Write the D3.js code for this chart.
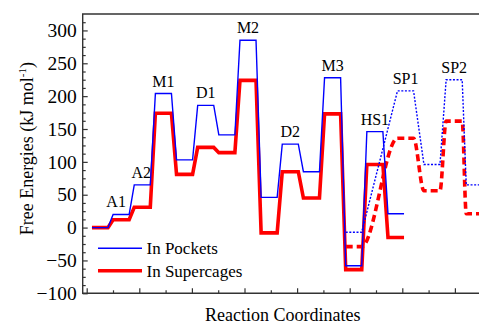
<!DOCTYPE html>
<html><head><meta charset="utf-8">
<script src="https://cdn.jsdelivr.net/npm/d3@7"></script>
<style>
html,body{margin:0;padding:0;background:#fff;}
svg{display:block;font-family:"Liberation Serif","Times New Roman",serif;}
</style></head>
<body><svg id="c" width="479" height="326"></svg>
<script>
// ---- data ----
const stateLabels = ["", "A1", "A2", "M1", "", "D1", "", "M2", "", "D2", "", "M3", "", "HS1", ""];
const pocketValues = [0, 20, 65, 204, 103, 186, 141, 285, 46, 127, 85, 228, -58, 146, 21];
const supercageValues = [0, 12, 31, 174, 81, 122, 114, 224, -8, 85, 45, 173, -64, 96, -15];
// branch through SP1 / SP2 (positions along the reaction coordinate, in state units)
const branchPositions = [12, 14.45, 15.7, 16.75, 17.7];
const branchLabels = ["", "SP1", "", "SP2", ""];
const pocketBranch = [-7, 208, 96, 225, 65];
const supercageBranch = [-29, 136, 56, 162, 21];
const yTicks = [-100, -50, 0, 50, 100, 150, 200, 250, 300];
const seriesNames = ["In Pockets", "In Supercages"];

// ---- layout ----
const L = 82.7, R = 479, T = 14, B = 293.3;
const svg = d3.select("#c");
const y = d3.scaleLinear().domain([-100, 325]).range([B, T]);
// reaction coordinate axis: one unit = one major tick
const x = d3.scaleLinear().domain([0, 7]).range([86.7, 86.7 + 7 * 52.6]);
const PITCH = 0.402, OFFSET = 0.1, FLAT = 0.305;
const pos = i => OFFSET + i * PITCH;

function stepPoints(positions, values) {
  const pts = [];
  values.forEach((v, k) => {
    const s = pos(positions[k]);
    pts.push([s, v]); pts.push([s + FLAT, v]);
  });
  return pts;
}
const idx = pocketValues.map((_, i) => i);

svg.append("defs").append("clipPath").attr("id", "clip")
  .append("rect").attr("x", L).attr("y", T).attr("width", R - L).attr("height", B - T);

const g = svg.append("g").attr("clip-path", "url(#clip)");
const line = d3.line().x(d => x(d[0])).y(d => y(d[1]));
const smooth = d3.line().x(d => x(d[0])).y(d => y(d[1])).curve(d3.curveMonotoneX);

// supercage branch (dashed, smooth)
g.append("path").attr("d", smooth(stepPoints(branchPositions, supercageBranch)))
  .attr("fill", "none").attr("stroke", "#ff0000").attr("stroke-width", 3.6)
  .attr("stroke-dasharray", "7,4");
// supercage main
g.append("path").attr("d", line(stepPoints(idx, supercageValues)))
  .attr("fill", "none").attr("stroke", "#ff0000").attr("stroke-width", 3.6)
  .attr("stroke-linejoin", "miter");
// pocket branch (dotted)
g.append("path").attr("d", line(stepPoints(branchPositions, pocketBranch)))
  .attr("fill", "none").attr("stroke", "#0000ff").attr("stroke-width", 1.4)
  .attr("stroke-dasharray", "2,1.6");
// pocket main
g.append("path").attr("d", line(stepPoints(idx, pocketValues)))
  .attr("fill", "none").attr("stroke", "#0000ff").attr("stroke-width", 1.4);

// state labels
const lab = svg.append("g").attr("font-size", 16).attr("fill", "#000").attr("text-anchor", "middle");
function labelY(v) { return y(v) - 7; }
const labelShift = {A1: -5, A2: -1};
stateLabels.forEach((t, i) => {
  if (!t) return;
  const top = Math.max(pocketValues[i], supercageValues[i]);
  lab.append("text").attr("x", x(pos(i) + FLAT / 2) + (labelShift[t] || 0))
    .attr("y", labelY(top)).text(t);
});
branchLabels.forEach((t, k) => {
  if (!t) return;
  const top = Math.max(pocketBranch[k], supercageBranch[k]);
  lab.append("text").attr("x", x(pos(branchPositions[k]) + FLAT / 2))
    .attr("y", labelY(top)).text(t);
});

// axes
const axisColor = "#333";
const yAx = svg.append("g").attr("transform", `translate(${L},0)`)
  .call(d3.axisLeft(y).tickValues(yTicks).tickSize(-5).tickPadding(6));
yAx.select(".domain").remove();
yAx.selectAll("line").attr("stroke", axisColor).attr("stroke-width", 1.2);
yAx.selectAll("text").attr("font-size", 19.5).attr("fill", "#000")
  .attr("font-family", "Liberation Serif, serif");
const yMinor = d3.range(-100, 325, 12.5).filter(v => v % 50 !== 0);
const yAxm = svg.append("g").attr("transform", `translate(${L},0)`)
  .call(d3.axisLeft(y).tickValues(yMinor).tickSize(-3).tickFormat(""));
yAxm.select(".domain").remove();
yAxm.selectAll("line").attr("stroke", axisColor).attr("stroke-width", 1.2);

const xAx = svg.append("g").attr("transform", `translate(0,${B})`)
  .call(d3.axisBottom(x).tickValues(d3.range(0, 8)).tickSize(-5).tickFormat(""));
xAx.select(".domain").remove();
xAx.selectAll("line").attr("stroke", axisColor).attr("stroke-width", 1.2);
const xAxm = svg.append("g").attr("transform", `translate(0,${B})`)
  .call(d3.axisBottom(x).tickValues(d3.range(0.5, 7, 1)).tickSize(-3).tickFormat(""));
xAxm.select(".domain").remove();
xAxm.selectAll("line").attr("stroke", axisColor).attr("stroke-width", 1.2);

svg.append("path").attr("d", `M${R},${T}H${L}V${B}H${R}`)
  .attr("fill", "none").attr("stroke", axisColor).attr("stroke-width", 1.4);

// axis titles
svg.append("text").attr("x", (L + R) / 2 + 2).attr("y", 321).attr("text-anchor", "middle")
  .attr("font-size", 18).text("Reaction Coordinates");
const yt = svg.append("text").attr("transform", `translate(33,${(T + B) / 2 - 5}) rotate(-90)`)
  .attr("text-anchor", "middle").attr("font-size", 18);
yt.append("tspan").text("Free Energies (kJ mol");
yt.append("tspan").attr("font-size", 11).attr("dy", -7).text("-1");
yt.append("tspan").attr("dy", 7).text(")");

// legend
const leg = svg.append("g");
const legY = [248.3, 270.7];
const legStyle = [{c: "#0000ff", w: 1.4}, {c: "#ff0000", w: 3.6}];
seriesNames.forEach((n, i) => {
  leg.append("line").attr("x1", 98).attr("x2", 142).attr("y1", legY[i]).attr("y2", legY[i])
    .attr("stroke", legStyle[i].c).attr("stroke-width", legStyle[i].w);
  leg.append("text").attr("x", 146.5).attr("y", legY[i] + 6).attr("font-size", 17).text(n);
});
</script></body></html>
